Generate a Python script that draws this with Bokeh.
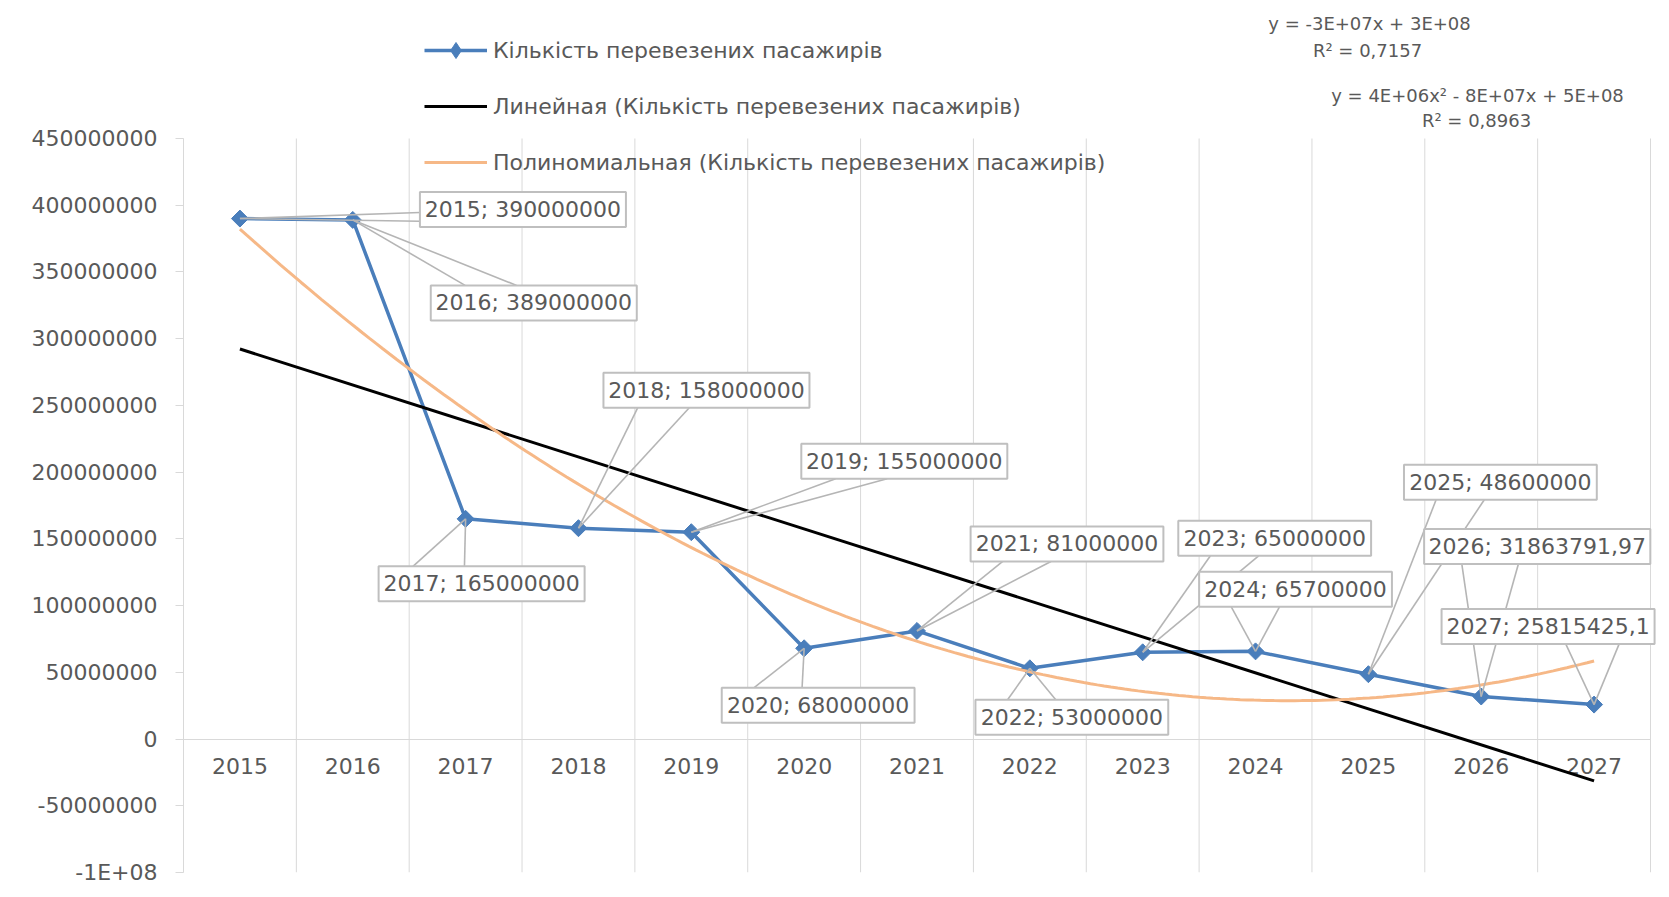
import numpy as np
from bokeh.plotting import figure
from bokeh.models import FixedTicker, Legend, LegendItem, Label, ColumnDataSource
from bokeh.embed import file_html
from bokeh.resources import INLINE
from bokeh.core.properties import value

# ---------------- data ----------------
years = ["2015", "2016", "2017", "2018", "2019", "2020", "2021",
         "2022", "2023", "2024", "2025", "2026", "2027"]
passengers = [390000000, 389000000, 165000000, 158000000, 155000000,
              68000000, 81000000, 53000000, 65000000, 65700000,
              48600000, 31863791.97, 25815425.1]
y_ticks = [-100000000, -50000000, 0, 50000000, 100000000, 150000000,
           200000000, 250000000, 300000000, 350000000, 400000000, 450000000]
y_tick_labels = ["-1E+08", "-50000000", "0", "50000000", "100000000",
                 "150000000", "200000000", "250000000", "300000000",
                 "350000000", "400000000", "450000000"]
series_name = "Кількість перевезених пасажирів"
linear_name = "Линейная (Кількість перевезених пасажирів)"
poly_name = "Полиномиальная (Кількість перевезених пасажирів)"
eq_linear = ["y = -3E+07x + 3E+08", "R² = 0,7157"]
eq_poly = ["y = 4E+06x² - 8E+07x + 5E+08", "R² = 0,8963"]

# ---------------- layout (screen px) ----------------
label_offsets = [(283, -9), (181, 83), (16, 65), (128, -138), (213, -71),
                 (14, 57), (150, -87), (42, 49), (132, -114), (40, -62),
                 (132, -192), (56, -150), (-46, -78)]

FONT_NAME = "DejaVu Sans"
FONT = value(FONT_NAME)
GREY_TXT = "#595959"
GRID = "#d9d9d9"
BLUE = "#4A7EBB"
ORANGE = "#F6B887"
FS = 22

n = len(years)
y_min, y_top_tick = -100000000, 450000000
px_per_cat = 1467.0 / n               # width of one category
px_per_val = 734.0 / (y_top_tick - y_min)
ML = 183                              # frame left (page px)
frame_w = 1478
W = 1665
MR = W - ML - frame_w
frame_bottom = 872                    # page px of the -1E+08 level
MB = 16
H = frame_bottom + MB
x_end = frame_w / px_per_cat
y_max = y_min + frame_bottom / px_per_val

p = figure(width=W, height=H, output_backend="svg", toolbar_location=None,
           x_range=(0, x_end), y_range=(y_min, y_max),
           min_border_left=ML, min_border_right=MR,
           min_border_top=0, min_border_bottom=MB)
p.outline_line_color = None
p.background_fill_color = "white"
p.border_fill_color = "white"

# category gridlines (only across the value-axis extent)
gx = list(range(n + 1))
p.segment(x0=gx, y0=[y_min] * len(gx), x1=gx, y1=[y_top_tick] * len(gx),
          line_color=GRID, line_width=1)
p.xgrid.visible = False
p.ygrid.visible = False

# axes
xs_center = [i + 0.5 for i in range(n)]
p.xaxis.ticker = FixedTicker(ticks=xs_center)
p.xaxis.major_label_overrides = {x: y for x, y in zip(xs_center, years)}
p.xaxis.fixed_location = 0
p.xaxis.bounds = (0, n)
p.xaxis.axis_line_color = GRID
p.xaxis.axis_line_width = 1
p.xaxis.major_tick_in = 0
p.xaxis.major_tick_out = 0
p.xaxis.minor_tick_line_color = None
p.xaxis.major_label_standoff = 19
p.xaxis.major_label_text_font = FONT_NAME
p.xaxis.major_label_text_font_size = f"{FS}px"
p.xaxis.major_label_text_color = GREY_TXT
p.xaxis.level = "underlay"

p.yaxis.ticker = FixedTicker(ticks=y_ticks)
p.yaxis.bounds = (y_min, y_top_tick)
p.yaxis.major_label_overrides = {t: s for t, s in zip(y_ticks, y_tick_labels)}
p.yaxis.axis_line_color = GRID
p.yaxis.major_tick_line_color = GRID
p.yaxis.major_tick_in = 0
p.yaxis.major_tick_out = 8
p.yaxis.minor_tick_line_color = None
p.yaxis.major_label_standoff = 18
p.yaxis.major_label_text_font = FONT_NAME
p.yaxis.major_label_text_font_size = f"{FS}px"
p.yaxis.major_label_text_color = GREY_TXT

# series
src = ColumnDataSource(dict(x=xs_center, y=passengers))
r_line = p.line("x", "y", source=src, line_color=BLUE, line_width=3.5)
r_mark = p.scatter("x", "y", source=src, marker="square", angle=np.pi / 4,
                   size=12, fill_color=BLUE, line_color=BLUE)
# diamond glyph used only for the legend swatch (placed outside the visible range)
r_leg_mark = p.scatter(x=[-5.0], y=[0.0], marker="diamond", size=19,
                       fill_color=BLUE, line_color=BLUE)

# trend lines (least-squares fits of the data, x = 1..n as in Excel)
t = np.arange(1, n + 1)
lin_c = np.polyfit(t, passengers, 1)
quad_c = np.polyfit(t, passengers, 2)
t_lin = np.array([1.0, float(n)])
r_lin = p.line(t_lin - 0.5, np.polyval(lin_c, t_lin), line_color="black", line_width=3)
t_q = np.linspace(1, n, 200)
r_poly = p.line(t_q - 0.5, np.polyval(quad_c, t_q), line_color=ORANGE, line_width=3)

# data labels (callouts)
def fmt(v):
    return f"{v:.12g}".replace(".", ",")

cw = {";": 0.337, " ": 0.318, ",": 0.318}
lead_xs, lead_ys = [], []
bx, by, bw, bh, btxt = [], [], [], [], []
for i, (yr, v) in enumerate(zip(years, passengers)):
    txt = f"{yr}; {fmt(v)}"
    w = sum(cw.get(c, 0.6) for c in txt) * FS + 20
    h = 35
    dx, dy = label_offsets[i]
    x0, y0 = xs_center[i], v
    cx = x0 + dx / px_per_cat
    cy = y0 - dy / px_per_val
    bx.append(cx); by.append(cy); bw.append(w); bh.append(h); btxt.append(txt)
    hw, hh = w / 2, h / 2
    if abs(dy) <= hh:
        ex = -hw if dx > 0 else hw
        fr = (7 / 12, 10 / 12) if -dy > 0 else (2 / 12, 5 / 12)
        pts = [(ex, -hh + f * h) for f in fr]
    else:
        ey = -hh if dy > 0 else hh
        fr = (2 / 12, 5 / 12) if -dx < 0 else (7 / 12, 10 / 12)
        pts = [(-hw + f * w, ey) for f in fr]
    for ax, ay in pts:
        lead_xs.append([x0, x0 + (dx + ax) / px_per_cat])
        lead_ys.append([y0, y0 - (dy + ay) / px_per_val])

p.multi_line(lead_xs, lead_ys, line_color="#b5b5b5", line_width=1.6)
p.rect(x=bx, y=by, width=bw, height=bh, width_units="screen", height_units="screen",
       fill_color="white", line_color="#bfbfbf", line_width=2)
p.text(x=bx, y=by, text=btxt, text_align="center", text_baseline="middle",
       text_font=FONT, text_font_size=f"{FS}px", text_color=GREY_TXT)

# legend
legend = Legend(items=[LegendItem(label=series_name, renderers=[r_line, r_leg_mark]),
                       LegendItem(label=linear_name, renderers=[r_lin]),
                       LegendItem(label=poly_name, renderers=[r_poly])],
                location=(241, 690), orientation="vertical",
                glyph_width=63, glyph_height=40, label_height=26,
                label_standoff=6, spacing=16, padding=0, margin=0,
                border_line_color=None, background_fill_alpha=0,
                label_text_font=FONT_NAME, label_text_font_size=f"{FS}px",
                label_text_color=GREY_TXT)
p.add_layout(legend, "center")

# trend-line equations (screen units relative to frame bottom-left)
eq_pos = [(1369, 23), (1367, 50), (1477, 95), (1476, 120)]
for txt, (X, Y) in zip(eq_linear + eq_poly, eq_pos):
    p.add_layout(Label(x=X - ML, y=frame_bottom - Y,
                       x_units="screen", y_units="screen", text=txt,
                       text_align="center", text_baseline="middle",
                       text_font=FONT_NAME, text_font_size="18px",
                       text_color=GREY_TXT))

open("out.html", "w").write(file_html(p, INLINE))
